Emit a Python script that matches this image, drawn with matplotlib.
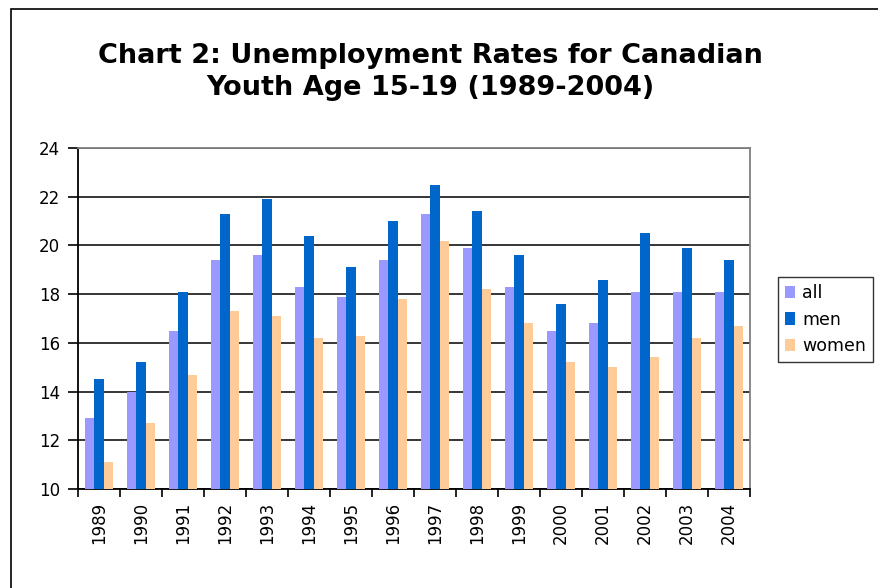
# -*- coding: utf-8 -*-
"""Unemployment rates for Canadian youth, grouped bar chart"""
import numpy as np
import matplotlib
matplotlib.use('Agg')
import matplotlib.pyplot as plt
from matplotlib.patches import Rectangle, Patch

years = ['1989', '1990', '1991', '1992', '1993', '1994', '1995', '1996',
         '1997', '1998', '1999', '2000', '2001', '2002', '2003', '2004']
all_rate = [12.9, 14.0, 16.5, 19.4, 19.6, 18.3, 17.9, 19.4,
            21.3, 19.9, 18.3, 16.5, 16.8, 18.1, 18.1, 18.1]
men_rate = [14.5, 15.2, 18.1, 21.3, 21.9, 20.4, 19.1, 21.0,
            22.5, 21.4, 19.6, 17.6, 18.6, 20.5, 19.9, 19.4]
women_rate = [11.1, 12.7, 14.7, 17.3, 17.1, 16.2, 16.3, 17.8,
              20.2, 18.2, 16.8, 15.2, 15.0, 15.4, 16.2, 16.7]
series = ['all', 'men', 'women']
colors = ['#9999FF', '#0066CC', '#FFCC99']

W, H = 879, 588
fig = plt.figure(figsize=(W / 100, H / 100), dpi=100)

# рамка вокруг диаграммы
fig.patches.append(Rectangle((11 / W, -0.05), 1.2, 1 - 9 / H + 0.05,
                             transform=fig.transFigure, fill=False,
                             edgecolor='black', linewidth=1.2))

ax = fig.add_axes([78 / W, (H - 489) / H, (750 - 78) / W, (489 - 148) / H])

x = np.arange(len(years))
w = 0.215
for k, (vals, c) in enumerate(zip([all_rate, men_rate, women_rate], colors)):
    ax.bar(x + (k - 1) * w, np.array(vals) - 10, w, bottom=10, color=c,
           linewidth=0, zorder=3)

ax.set_xlim(-0.5, len(years) - 0.5)
ax.set_ylim(10, 24)
ax.set_yticks(range(10, 25, 2))
ax.yaxis.grid(True, color='black', linewidth=1.1, zorder=1)
ax.set_axisbelow(True)

ax.set_xticks(x)
ax.set_xticklabels(years, rotation=90, fontsize=12)
ax.set_xticks(np.arange(-0.5, len(years), 1), minor=True)
ax.tick_params(axis='x', which='major', length=0, pad=9)
ax.tick_params(axis='x', which='minor', length=6, width=1.2, direction='out')
ax.tick_params(axis='y', length=7, width=1.2, labelsize=12, pad=6)

for s in ['left', 'bottom']:
    ax.spines[s].set_color('black')
    ax.spines[s].set_linewidth(1.3)
for s in ['top', 'right']:
    ax.spines[s].set_color('#808080')
    ax.spines[s].set_linewidth(1.3)

handles = [Patch(facecolor=c, edgecolor='none', label=n) for n, c in zip(series, colors)]
leg = fig.legend(handles=handles, loc='upper left',
                 bbox_to_anchor=(778 / W, 1 - 277 / H), fontsize=12.5,
                 frameon=True, fancybox=False, edgecolor='black',
                 handlelength=0.6, handleheight=0.7, handletextpad=0.4,
                 labelspacing=0.5, borderpad=0.4, borderaxespad=0)
leg.get_frame().set_linewidth(1.0)

fig.text(430 / W, 1 - 72 / H,
         'Chart 2: Unemployment Rates for Canadian\nYouth Age 15-19 (1989-2004)',
         ha='center', va='center', fontsize=19.5, fontweight='bold',
         linespacing=1.3)

fig.savefig('out.png', dpi=100)
